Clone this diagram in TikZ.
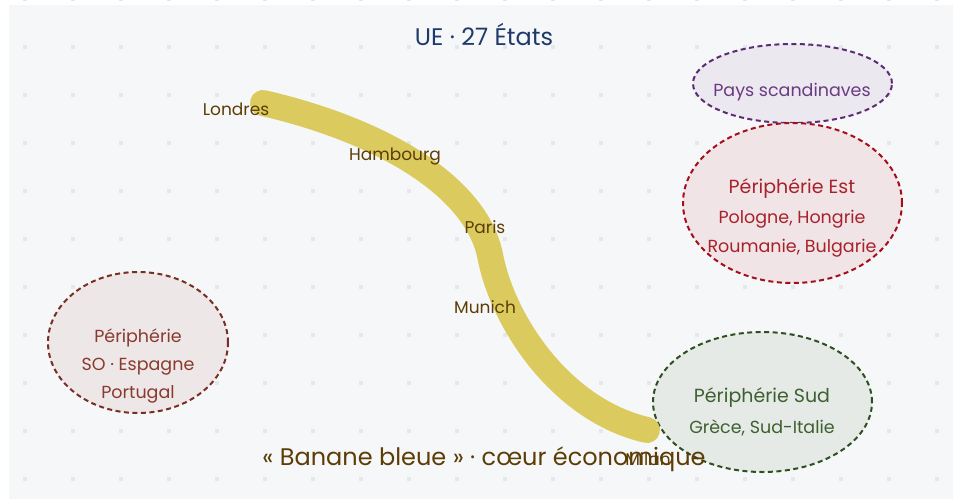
\documentclass[tikz,border=0pt]{standalone}
\usepackage{fontspec}
\setmainfont{Poppins}
\usetikzlibrary{shapes.geometric}
\definecolor{fond}{HTML}{F6F7F9}
\definecolor{point}{HTML}{E5E7EA}
\definecolor{titrebleu}{HTML}{1E3A6B}
\definecolor{brunville}{HTML}{5C3D05}
\definecolor{jaune}{HTML}{DBCB5F}
\definecolor{scandtrait}{HTML}{5E2A73}
\definecolor{scandfond}{HTML}{ECE8F0}
\definecolor{scandtexte}{HTML}{6A3B80}
\definecolor{esttrait}{HTML}{A50E18}
\definecolor{estfond}{HTML}{F1E4E7}
\definecolor{esttexte}{HTML}{A8222A}
\definecolor{sotrait}{HTML}{7A2E22}
\definecolor{sofond}{HTML}{EDE7E8}
\definecolor{sotexte}{HTML}{8A3A2E}
\definecolor{sudtrait}{HTML}{2E4F1E}
\definecolor{sudfond}{HTML}{E5EAE6}
\definecolor{sudtexte}{HTML}{3E6030}

\begin{document}
\begin{tikzpicture}[x=1pt,y=-1pt,
  zone/.style={ellipse,line width=2pt,dash pattern=on 5pt off 3.5pt,inner sep=0pt},
  zonetexte/.style={anchor=base,font=\fontsize{17.5}{20}\selectfont},
  zonenom/.style={anchor=base,font=\fontsize{19}{22}\selectfont},
  ville/.style={text=brunville,anchor=base,font=\fontsize{17}{20}\selectfont},
  banane/.style={draw=jaune,line width=26pt,line cap=round}]
\useasboundingbox (0,0) rectangle (953,499);
\fill[white] (0,0) rectangle (953,499);
\fill[fond] (9,5) rectangle (953,499);
\foreach \i in {0,...,19}
  \foreach \j in {0,...,10}
    \fill[point] ({22.7+48*\i},{-3.3+48*\j}) rectangle +(4,4);

\node[titrebleu,anchor=base,font=\fontsize{24}{28}\selectfont] (titre) at (484,45) {UE · 27 États};

\node[zone,draw=scandtrait,fill=scandfond,minimum width=199pt,minimum height=79pt] (scand) at (792.5,83.5) {};
\node[zone,draw=esttrait,fill=estfond,minimum width=219pt,minimum height=160pt] (est) at (792.5,203) {};
\node[zone,draw=sotrait,fill=sofond,minimum width=180pt,minimum height=141pt] (so) at (138,342.5) {};
\node[zone,draw=sudtrait,fill=sudfond,minimum width=219pt,minimum height=140pt] (sud) at (762.5,402) {};

\node[zonetexte,text=scandtexte] (scandnom) at (792,96) {Pays scandinaves};
\node[zonenom,text=esttexte] (estnom) at (792,193) {Périphérie Est};
\node[zonetexte,text=esttexte] (est1) at (792,223) {Pologne, Hongrie};
\node[zonetexte,text=esttexte] (est2) at (792,252) {Roumanie, Bulgarie};
\node[zonetexte,text=sotexte] (sonom) at (138,342) {Périphérie};
\node[zonetexte,text=sotexte] (so1) at (138,370) {SO · Espagne};
\node[zonetexte,text=sotexte] (so2) at (138,398) {Portugal};
\node[zonenom,text=sudtexte] (sudnom) at (762,402) {Périphérie Sud};
\node[zonetexte,text=sudtexte] (sud1) at (762,433) {Grèce, Sud-Italie};

\coordinate (londres) at (263,103);
\coordinate (coude) at (490,255);
\coordinate (milan) at (647,430);
\draw[banane] (londres) .. controls (380,130) and (475,185) .. (coude)
  .. controls (502,320) and (560,410) .. (milan);

\node[ville] (lLondres) at (236,115) {Londres};
\node[ville] (lHambourg) at (395,160) {Hambourg};
\node[ville] (lParis) at (485,233) {Paris};
\node[ville] (lMunich) at (485,313) {Munich};
\node[ville] (lMilan) at (648,465) {Milan};

\node[text=brunville,anchor=base,font=\fontsize{24}{28}\selectfont] (legende) at (484,465) {« Banane bleue » · cœur économique};
\end{tikzpicture}
\end{document}
